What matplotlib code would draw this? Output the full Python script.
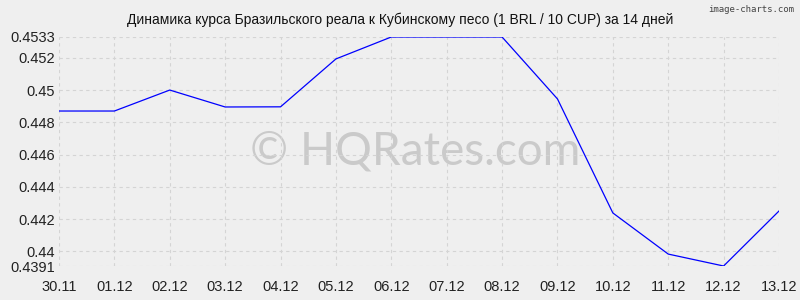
import matplotlib
matplotlib.use("Agg")
import matplotlib.pyplot as plt

dates = ["30.11", "01.12", "02.12", "03.12", "04.12", "05.12", "06.12",
         "07.12", "08.12", "09.12", "10.12", "11.12", "12.12", "13.12"]
rates = [0.44871, 0.44871, 0.45001, 0.44896, 0.44897, 0.45194, 0.4533,
         0.4533, 0.4533, 0.44946, 0.44239, 0.43984, 0.4391, 0.44251]
y_ticks = [0.4391, 0.44, 0.442, 0.444, 0.446, 0.448, 0.45, 0.452, 0.4533]
y_labels = ["0.4391", "0.44", "0.442", "0.444", "0.446", "0.448", "0.45", "0.452", "0.4533"]

plt.rcParams['font.family'] = ['Liberation Sans', 'DejaVu Sans']
bg = '#efefef'

fig = plt.figure(figsize=(8, 3), dpi=100, facecolor=bg)
ax = fig.add_axes([0.07375, 0.1133, 0.9, 0.7634], facecolor=bg)

x = list(range(len(dates)))
ax.plot(x, rates, color='#0000ff', lw=0.9, zorder=3)

ax.set_xlim(0, len(dates) - 1)
ax.set_ylim(0.4391, 0.4533)
ax.set_xticks(x)
ax.set_xticklabels(dates)
ax.set_yticks(y_ticks)
ax.set_yticklabels(y_labels)
ax.tick_params(length=0, labelsize=10.5, colors='#222222')
ax.tick_params(axis='x', pad=10)
ax.tick_params(axis='y', pad=3)

ax.grid(True, color='#d4d4d4', linestyle=(0, (3, 3)), lw=0.8)
for s in ax.spines.values():
    s.set_visible(False)

ax.text(0.495, 0.5, "© HQRates.com", transform=ax.transAxes, ha='center', va='center',
        fontsize=33, color='#cacaca', family=['Lato', 'DejaVu Sans'], zorder=1)

fig.text(0.5, 0.935, "Динамика курса Бразильского реала к Кубинскому песо (1 BRL / 10 CUP) за 14 дней",
         ha='center', va='center', fontsize=10, color='#111111')
fig.text(0.993, 0.985, "image-charts.com", ha='right', va='top', fontsize=6.5,
         color='#444444', family=['DejaVu Sans Mono'])

fig.savefig("out.png", dpi=100, facecolor=bg)
